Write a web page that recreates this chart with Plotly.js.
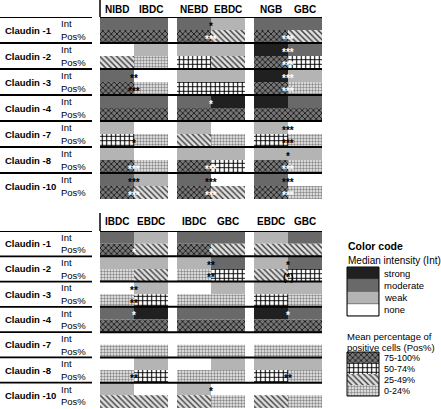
<!DOCTYPE html>
<html>
<head>
<meta charset="utf-8">
<script src="https://cdn.plot.ly/plotly-3.0.1.min.js"></script>
<style>html,body{margin:0;padding:0;background:#fff;}#chart{width:441px;height:409px;}</style>
</head>
<body>
<div id="chart"></div>
<script>
// ---------------- DATA ----------------
const claudins = ['Claudin -1','Claudin -2','Claudin -3','Claudin -4','Claudin -7','Claudin -8','Claudin -10'];
const rowKinds = ['Int','Pos%'];
const topCols = ['NIBD','IBDC','NEBD','EBDC','NGB','GBC'];
const botCols = ['IBDC','EBDC','IBDC','GBC','EBDC','GBC'];

const intLevels = ['strong','moderate','weak','none'];
const posLevels = ['75-100%','50-74%','25-49%','0-24%'];

const topInt = [
  ['moderate','moderate','moderate','weak','moderate','moderate'],
  ['none','weak','weak','weak','strong','moderate'],
  ['moderate','none','weak','weak','strong','weak'],
  ['moderate','moderate','moderate','strong','strong','moderate'],
  ['weak','none','weak','none','weak','none'],
  ['weak','none','weak','weak','weak','weak'],
  ['moderate','weak','moderate','none','moderate','none']
];
const topPos = [
  ['75-100%','75-100%','75-100%','25-49%','75-100%','25-49%'],
  ['25-49%','0-24%','50-74%','25-49%','75-100%','50-74%'],
  ['75-100%','0-24%','50-74%','50-74%','75-100%','0-24%'],
  ['75-100%','75-100%','75-100%','75-100%','75-100%','75-100%'],
  ['50-74%','0-24%','25-49%','0-24%','50-74%','0-24%'],
  ['75-100%','0-24%','75-100%','50-74%','75-100%','0-24%'],
  ['75-100%','25-49%','75-100%','25-49%','75-100%','0-24%']
];
const botInt = [
  ['moderate','weak','moderate','moderate','weak','moderate'],
  ['weak','weak','weak','moderate','weak','moderate'],
  ['none','weak','none','weak','weak','weak'],
  ['moderate','strong','moderate','moderate','strong','moderate'],
  ['none','none','none','none','none','none'],
  ['none','weak','none','weak','weak','weak'],
  ['weak','none','weak','none','none','none']
];
const botPos = [
  ['75-100%','25-49%','75-100%','25-49%','25-49%','25-49%'],
  ['0-24%','25-49%','0-24%','50-74%','25-49%','50-74%'],
  ['0-24%','50-74%','0-24%','0-24%','50-74%','0-24%'],
  ['75-100%','75-100%','75-100%','75-100%','75-100%','75-100%'],
  ['0-24%','0-24%','0-24%','0-24%','0-24%','0-24%'],
  ['0-24%','50-74%','0-24%','0-24%','50-74%','0-24%'],
  ['25-49%','25-49%','25-49%','0-24%','25-49%','0-24%']
];
// significance marks: [claudin index, row kind, column pair, text, colour]
const topStars = [
  [0,'Int',1,'*','black'],[0,'Pos%',1,'***','white'],[0,'Pos%',2,'***','white'],
  [1,'Int',2,'***','white'],[1,'Pos%',2,'***','white'],
  [2,'Int',0,'**','black'],[2,'Pos%',0,'***','black'],[2,'Int',2,'***','white'],[2,'Pos%',2,'***','white'],
  [3,'Int',1,'*','white'],
  [4,'Pos%',0,'*','black'],[4,'Int',2,'***','black'],[4,'Pos%',2,'***','black'],
  [5,'Pos%',0,'***','white'],[5,'Pos%',1,'***','white'],[5,'Int',2,'*','black'],[5,'Pos%',2,'***','white'],
  [6,'Int',0,'***','black'],[6,'Pos%',0,'***','white'],[6,'Int',1,'***','black'],[6,'Pos%',1,'***','white'],
  [6,'Int',2,'***','black'],[6,'Pos%',2,'***','white']
];
const botStars = [
  [0,'Pos%',0,'*','white'],[0,'Pos%',1,'*','white'],
  [1,'Int',1,'**','black'],[1,'Pos%',1,'**','black'],[1,'Int',2,'*','black'],[1,'Pos%',2,'(*)','black'],
  [2,'Int',0,'**','black'],[2,'Pos%',0,'**','black'],
  [3,'Int',0,'*','white'],[3,'Int',2,'*','white'],
  [5,'Pos%',0,'**','black'],[5,'Pos%',2,'**','black'],
  [6,'Int',1,'*','black']
];

// ---------------- STYLES ----------------
const intColor = {strong:'#202020', moderate:'#696969', weak:'#b4b4b4', none:'#ffffff'};
const posStyle = {
  '75-100%': {shape:'x',  bg:'#767676', fg:'#181818', size:4, solidity:0.4},
  '50-74%':  {shape:'+',  bg:'#ffffff', fg:'#000000', size:4.5, solidity:0.42},
  '25-49%':  {shape:'\\', bg:'#e0e0e0', fg:'#3a3a3a', size:4, solidity:0.35},
  '0-24%':   {shape:'.',  bg:'#f2f2f2', fg:'#8a8a8a', size:3, solidity:0.5}
};
const FONT = 'Liberation Sans, Arial, Helvetica, sans-serif';
const W = 441, H = 409;
const px = v => v / W;
const py = v => 1 - v / H;
const groupSpans = [[100,168],[177,245],[254,322]];
const panels = [
  {cols: topCols, ints: topInt, pos: topPos, stars: topStars, yTop: 17, yBot: 199, headerY: 9, vline: [0,17], yaxis: 'y', xa: ['x','x2','x3']},
  {cols: botCols, ints: botInt, pos: botPos, stars: botStars, yTop: 231, yBot: 408, headerY: 222, vline: [213,231], yaxis: 'y2', xa: ['x4','x5','x6']}
];
const nRows = claudins.length * rowKinds.length;

const traces = [];
const annotations = [];
const shapes = [];
const layout = {
  width: W, height: H,
  margin: {l:0, r:0, t:0, b:0, pad:0},
  paper_bgcolor: '#ffffff', plot_bgcolor: 'rgba(0,0,0,0)',
  showlegend: false,
  barmode: 'overlay',
  font: {family: FONT, color: '#000'},
  annotations: annotations,
  shapes: shapes
};

function patternBar(level, x, base, xa, ya, orientation) {
  const st = posStyle[level];
  const t = {type:'bar', width: 1, xaxis: xa, yaxis: ya, hoverinfo:'skip',
    marker: {color: st.bg, line: {width: 0},
      pattern: {shape: st.shape, bgcolor: st.bg, fgcolor: st.fg, fgopacity: 1, size: st.size, solidity: st.solidity, fillmode: 'replace'}}};
  if (orientation === 'h') { t.orientation = 'h'; t.y = x; t.x = x.map(() => 1); t.base = base; }
  else { t.x = x; t.y = x.map(() => 1); t.base = base; }
  return t;
}

panels.forEach((p) => {
  const yKey = p.yaxis === 'y' ? 'yaxis' : 'yaxis2';
  layout[yKey] = {domain: [py(p.yBot), py(p.yTop)], range: [nRows, 0], visible: false, fixedrange: true, anchor: p.xa[0]};
  groupSpans.forEach((span, g) => {
    const xa = p.xa[g];
    const xKey = 'xaxis' + (xa === 'x' ? '' : xa.slice(1));
    layout[xKey] = {domain: [px(span[0]), px(span[1])], range: [-0.5, 1.5], visible: false, fixedrange: true, anchor: p.yaxis};
    const xi = [], bi = [], yi = [], ci = [];
    claudins.forEach((c, r) => {
      [0,1].forEach(k => {
        xi.push(k); bi.push(r * 2); yi.push(1); ci.push(intColor[p.ints[r][g*2+k]]);
      });
    });
    traces.push({type:'bar', x: xi, y: yi, base: bi, width: 1, xaxis: xa, yaxis: p.yaxis,
      marker: {color: ci, line: {width: 0}}, hoverinfo: 'skip'});
    posLevels.forEach(level => {
      const xs = [], bs = [];
      claudins.forEach((c, r) => {
        [0,1].forEach(k => { if (p.pos[r][g*2+k] === level) { xs.push(k); bs.push(r*2 + 1); } });
      });
      if (xs.length) traces.push(patternBar(level, xs, bs, xa, p.yaxis, 'v'));
    });
    [0,1].forEach(k => {
      annotations.push({xref: xa, yref: 'paper', x: k, y: py(p.headerY), text: '<b>' + p.cols[g*2+k] + '</b>',
        showarrow: false, font: {size: 10, family: FONT}, xanchor: 'center', yanchor: 'middle'});
    });
  });
  claudins.forEach((c, i) => {
    shapes.push({type:'line', xref:'paper', yref: p.yaxis, x0: px(100), x1: px(322), y0: i*2, y1: i*2,
      line: {color:'#000', width: 2}});
    shapes.push({type:'line', xref:'paper', yref: p.yaxis, x0: 0, x1: px(92), y0: i*2, y1: i*2,
      line: {color:'#000', width: 1.8}});
    annotations.push({xref:'paper', yref: p.yaxis, x: px(3), y: i*2 + 1, text: '<b>' + c + '</b>',
      showarrow:false, xanchor:'left', yanchor:'middle', font:{size: 9.5, family: FONT}});
    rowKinds.forEach((rk, k) => {
      annotations.push({xref:'paper', yref: p.yaxis, x: px(60), y: i*2 + k + 0.5, text: rk,
        showarrow:false, xanchor:'left', yanchor:'middle', borderpad: 0, font:{size: 9.5, family: FONT}});
    });
  });
  shapes.push({type:'line', xref:'paper', yref:'paper', x0: px(100), x1: px(100), y0: py(p.vline[0]), y1: py(p.vline[1]),
    line:{color:'#000', width:1.5}});
  p.stars.forEach(s => {
    const row = s[0]*2 + rowKinds.indexOf(s[1]);
    annotations.push({xref: p.xa[s[2]], yref: p.yaxis, x: 0.5, y: row + 0.5, text: '<b>' + s[3] + '</b>', showarrow:false,
      xanchor:'center', yanchor:'middle', yshift: -2.5, borderpad: 0, font:{size: 10, family: FONT, color: s[4]}});
  });
});

// ---------------- COLOUR-CODE KEY ----------------
layout.xaxis7 = {domain:[px(347), px(379)], range:[0,1], visible:false, fixedrange:true, anchor:'y3'};
layout.yaxis3 = {domain:[py(316), py(267)], range:[intLevels.length - 0.5, -0.5], visible:false, fixedrange:true, anchor:'x7'};
layout.xaxis8 = {domain:[px(347), px(379)], range:[0,1], visible:false, fixedrange:true, anchor:'y4'};
layout.yaxis4 = {domain:[py(396), py(352)], range:[posLevels.length - 0.5, -0.5], visible:false, fixedrange:true, anchor:'x8'};

traces.push({type:'bar', orientation:'h', y: intLevels.map((l,i)=>i), x: intLevels.map(()=>1), width: 1,
  xaxis:'x7', yaxis:'y3', marker:{color: intLevels.map(l=>intColor[l]), line:{width:0.6, color:'#555'}}, hoverinfo:'skip'});
posLevels.forEach((l,i) => traces.push(patternBar(l, [i], [0], 'x8', 'y4', 'h')));
shapes.push({type:'rect', xref:'x7 domain', yref:'y3 domain', x0:0, x1:1, y0:0, y1:1, line:{color:'#000', width:1}});
shapes.push({type:'rect', xref:'x8 domain', yref:'y4 domain', x0:0, x1:1, y0:0, y1:1, line:{color:'#000', width:1}});

intLevels.forEach((l,i) => annotations.push({xref:'paper', yref:'y3', x: px(383), y: i, text: l, showarrow:false,
  xanchor:'left', yanchor:'middle', borderpad: 0, font:{size:9.5, family: FONT}}));
posLevels.forEach((l,i) => annotations.push({xref:'paper', yref:'y4', x: px(383), y: i, text: l, showarrow:false,
  xanchor:'left', yanchor:'middle', borderpad: 0, font:{size:9, family: FONT}}));
annotations.push({xref:'paper', yref:'paper', x: px(346), y: py(246), text:'<b>Color code</b>', showarrow:false,
  xanchor:'left', yanchor:'middle', font:{size:10.5, family: FONT}});
annotations.push({xref:'paper', yref:'paper', x: px(346), y: py(260), text:'Median intensity (Int)', showarrow:false,
  xanchor:'left', yanchor:'middle', font:{size:10, family: FONT}});
annotations.push({xref:'paper', yref:'paper', x: px(346), y: py(336.5), text:'Mean percentage of', showarrow:false,
  xanchor:'left', yanchor:'middle', borderpad: 0, font:{size:9.5, family: FONT}});
annotations.push({xref:'paper', yref:'paper', x: px(346), y: py(347), text:'positive cells (Pos%)', showarrow:false,
  xanchor:'left', yanchor:'middle', borderpad: 0, font:{size:9.5, family: FONT}});

Plotly.newPlot('chart', traces, layout, {staticPlot: true, displayModeBar: false});
</script>
</body>
</html>
